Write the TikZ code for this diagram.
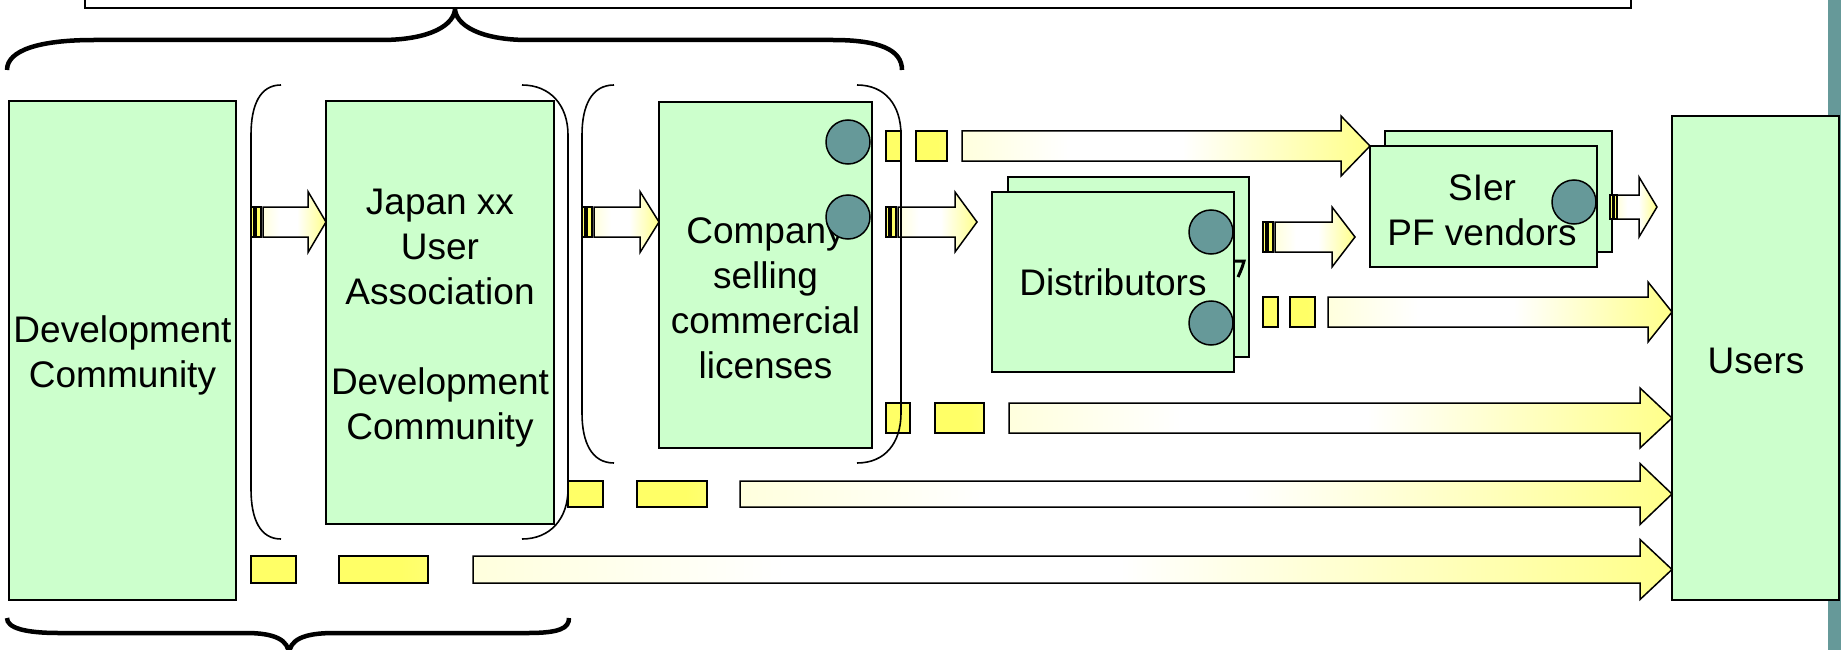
\documentclass[tikz,border=0pt]{standalone}
\usepackage{fontspec}
\setmainfont{Liberation Sans}
\definecolor{grn}{HTML}{CCFFCC}
\definecolor{tl}{HTML}{669999}
\definecolor{yl}{HTML}{FFFF66}
\colorlet{ylpale}{yl!65!white}
\pgfdeclarehorizontalshading{yarrow}{100bp}{color(0bp)=(ylpale); color(38bp)=(white); color(52bp)=(white); color(82bp)=(yl); color(100bp)=(yl)}
\pgfdeclarehorizontalshading{ydash}{100bp}{color(0bp)=(yl); color(60bp)=(yl); color(100bp)=(yl!80!white)}
\tikzset{
 box/.style={draw=black, line width=2pt, fill=grn, outer sep=0pt, inner sep=0pt},
 lbl/.style={align=center, font=\fontsize{37}{45}\selectfont, inner sep=0pt},
 dot/.style={circle, draw=black, line width=1.5pt, fill=tl, minimum size=44pt, inner sep=0pt},
 arr/.style={draw=black, line width=1.5pt, shading=yarrow},
 dashone/.style={draw=black, line width=1.5pt, fill=yl},
 dashtwo/.style={draw=black, line width=1.5pt, shading=ydash},
 bracket/.style={draw=black, line width=1.6pt},
 brace/.style={draw=black, line width=4.5pt},
}
% x0, xhead, xtip, ycenter, body half height, head half height
\newcommand{\myarrow}[6]{%
  \path[arr] (#1,#4-#5) -- (#2,#4-#5) -- (#2,#4-#6) -- (#3,#4) -- (#2,#4+#6) -- (#2,#4+#5) -- (#1,#4+#5) -- cycle;}
\newcommand{\stripedarrow}[6]{%
  \path[dashone] (#1,#4-#5) rectangle (#1+3,#4+#5);
  \path[dashone] (#1+5,#4-#5) rectangle (#1+10,#4+#5);
  \myarrow{#1+12}{#2}{#3}{#4}{#5}{#6}}
\begin{document}
\begin{tikzpicture}[x=1pt,y=-1pt]
\useasboundingbox (0,0) rectangle (1841,650);
% teal side bar
\fill[tl] (1828,0) rectangle (1841,650);
% top box
\draw[line width=2pt] (85,-20) rectangle (1631,8);
% braces
\draw[brace] (7,70) .. controls (7,50) and (40,40) .. (94,40) -- (381,40) .. controls (430,40) and (455,25) .. (455,8)
  .. controls (455,25) and (480,40) .. (528,40) -- (833,40) .. controls (880,40) and (902,50) .. (902,70);
\draw[brace] (7,618) .. controls (7,628) and (25,633) .. (59,633) -- (246,633) .. controls (275,633) and (289,640) .. (289,655)
  .. controls (289,640) and (303,633) .. (334,633) -- (528,633) .. controls (560,633) and (569,628) .. (569,618);

% boxes
\node[box, minimum width=227, minimum height=499] (dev) at (122.5,350.5) {};
\node[lbl] (devtxt) at (122.5,355) {Development\\Community};
\node[box, minimum width=228, minimum height=423] (japan) at (440,312.5) {};
\node[lbl] (japantxt) at (440,318) {Japan xx\\User\\Association\\[45pt]Development\\Community};
\node[box, minimum width=213, minimum height=346] (company) at (765.5,275) {};
\node[lbl] (companytxt) at (765.5,298) {Company\\selling\\commercial\\licenses};
\node[box, minimum width=241, minimum height=180] (distback) at (1128.5,267) {};
\draw[line width=3pt] (1235,261) -- (1244,261) .. controls (1242,268) .. (1238,277);
\node[box, minimum width=242, minimum height=180] (dist) at (1113,282) {};
\node[lbl] (disttxt) at (1113,282) {Distributors};
\node[box, minimum width=227, minimum height=121] (sierback) at (1498.5,191.5) {};
\node[box, minimum width=227, minimum height=121] (sier) at (1483.5,206.5) {};
\node[lbl] (siertxt) at (1482,210) {SIer\\PF vendors};
\node[box, minimum width=167, minimum height=484] (users) at (1755.5,358) {};
\node[lbl] (userstxt) at (1756,361) {Users};

% circles
\node[dot] (c1) at (848,142) {};
\node[dot] (c2) at (848,217) {};
\node[dot] (d1) at (1211,232) {};
\node[dot] (d2) at (1211,323) {};
\node[dot] (s1) at (1574,202) {};

% striped arrows
\stripedarrow{251}{308}{326}{222}{15}{30.5}
\stripedarrow{582}{640}{659}{222}{15}{30.5}
\stripedarrow{886}{955}{977}{222}{15}{30}
\stripedarrow{1263}{1332}{1355}{237}{15}{30}
\path[dashone] (1610,195) rectangle (1613,219);
\path[dashone] (1614,195) rectangle (1617,219);
\myarrow{1617}{1639}{1657}{207}{12}{30}

% dashed arrows
\path[dashone] (886,131) rectangle (901.5,161);
\path[dashtwo] (916,131) rectangle (947,161);
\myarrow{962}{1341}{1370}{146}{15}{30}

\path[dashone] (1263,297) rectangle (1278,327);
\path[dashtwo] (1290,297) rectangle (1315,327);
\myarrow{1328}{1648}{1672}{312}{15}{30}

\path[dashone] (886,403) rectangle (910,433);
\path[dashtwo] (935,403) rectangle (984,433);
\myarrow{1009}{1640}{1672}{418}{15}{30}

\path[dashone] (568,481) rectangle (603,507);
\path[dashtwo] (637,481) rectangle (707,507);
\myarrow{740}{1640}{1672}{494}{13}{30.5}

\path[dashone] (251,556) rectangle (296,583);
\path[dashtwo] (339,556) rectangle (428,583);
\myarrow{473}{1640}{1672}{569.5}{13.5}{30}

% brackets
\draw[bracket] (281,85) .. controls (260,85) and (251,105) .. (251,135) -- (251,489) .. controls (251,519) and (260,539) .. (281,539);
\draw[bracket] (522,85) .. controls (550,85) and (568,105) .. (568,135) -- (568,489) .. controls (568,519) and (550,539) .. (522,539);
\draw[bracket] (614,85) .. controls (592,85) and (582,105) .. (582,135) -- (582,413) .. controls (582,443) and (592,463) .. (614,463);
\draw[bracket] (857,85) .. controls (885,85) and (901,105) .. (901,135) -- (901,413) .. controls (901,443) and (885,463) .. (857,463);
\end{tikzpicture}
\end{document}
